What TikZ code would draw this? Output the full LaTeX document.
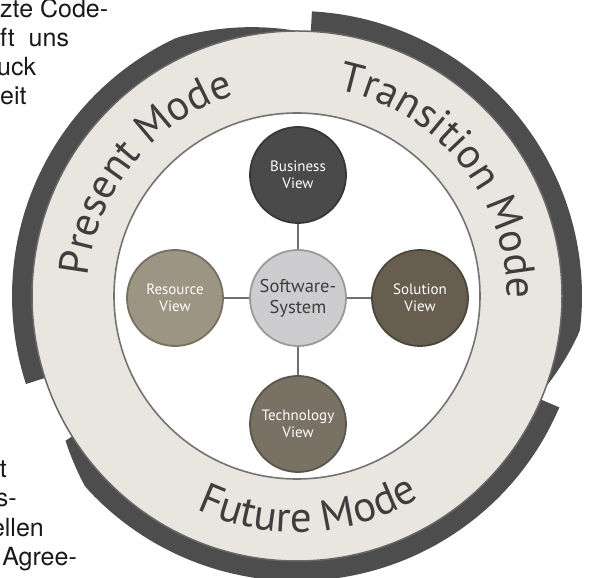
\documentclass[tikz,border=0pt]{standalone}
\usepackage{fontspec}
\setmainfont{TeX Gyre Heros}
\newfontfamily\viewfont{PT Sans}
\usetikzlibrary{decorations.text}

\definecolor{ringbeige}{HTML}{E9E6DF}
\definecolor{banddark}{HTML}{4D4D4D}
\definecolor{ringtext}{HTML}{3E3E3E}
\definecolor{businessgray}{HTML}{4A4A4A}
\definecolor{solutionbrown}{HTML}{675E50}
\definecolor{resourcetaupe}{HTML}{9D9584}
\definecolor{technologytaupe}{HTML}{797264}
\definecolor{softwaregray}{HTML}{CDCDCF}
\definecolor{linkgray}{HTML}{6E6E6E}

\newcommand{\modefont}{\viewfont\fontsize{42}{50}\selectfont}
\newcommand{\futurefont}{\viewfont\fontsize{43}{51}\selectfont}

\begin{document}
\begin{tikzpicture}[x=1pt, y=1pt,
        view/.style={circle, minimum size=96pt, inner sep=0pt, align=center, text=white, font=\viewfont\fontsize{15}{17}\selectfont, fill=#1, draw=#1!75!black, line width=1.8pt},
        core/.style={circle, minimum size=96pt, inner sep=0pt, align=center, text=ringtext, font=\viewfont\fontsize{18.5}{21}\selectfont, fill=softwaregray, draw=softwaregray!75!black, line width=1.8pt},
        link/.style={draw=linkgray, line width=2.6pt},
        pagetext/.style={font=\fontsize{25}{29}\selectfont, inner sep=0pt, text=black!90},
        band/.style={fill=banddark},
        modetext/.style={decorate, decoration={text along path, text align=center, text color=ringtext, text={|\modefont|#1}}},
        futuretext/.style={decorate, decoration={text along path, text align=center, text color=ringtext, text={|\futurefont|#1}}}
    ]
    \useasboundingbox (0,0) rectangle (589,578);
    \clip (0,0) rectangle (589,578);

    % Page text cut by the picture (left)
    \node[pagetext, anchor=base west] (top1) at (0,560) {zte Code-};
    \node[pagetext, anchor=base west] (top2) at (0,531) {ft\hspace{14pt}uns};
    \node[pagetext, anchor=base west] (top3) at (-3,502) {uck};
    \node[pagetext, anchor=base west] (top4) at (0,473) {eit};

    \node[pagetext, anchor=base east] (bottom1) at (7,100) {t};
    \node[pagetext, anchor=base east] (bottom2) at (17,71) {s-};
    \node[pagetext, anchor=base east] (bottom3) at (44,41) {ellen};
    \node[pagetext, anchor=base east] (bottom4) at (77,12) {Agree-};

    % Mode ring
    \begin{scope}[shift={(297,282)}]
        \fill[band] plot[domain=198:90, samples=90] (\x:{265+20*min(1,(\x-90)/25)}) -- (90:255) arc[start angle=90, end angle=198, radius=255] -- cycle;
        \fill[band] plot[domain=87:-20, samples=90] (\x:{265+20*min(1,(\x+20)/13)}) -- (-20:255) arc[start angle=-20, end angle=87, radius=255] -- cycle;
        \fill[band] plot[domain=-23:-148, samples=90] (\x:{273+12*min(1,(\x+148)/10)}) -- (-148:255) arc[start angle=-148, end angle=-23, radius=255] -- cycle;

        \fill[ringbeige, draw=banddark!85, line width=1.5pt] (0,0) circle (265);
        \fill[white, draw=black!55, line width=1.6pt] (0,0) circle (183);

        \path[modetext={Present Mode}] (201:210) arc[start angle=201, end angle=81, radius=210];
        \path[modetext={Transition Mode}] (99:210) arc[start angle=99, end angle=-21, radius=210];
        \path[futuretext={Future Mode}] (203:236) arc[start angle=203, end angle=343, radius=236];
    \end{scope}

    % Views round the system
    \node[core] (software) at (298,280) {Software-\\System};
    \node[view=businessgray] (business) at (298,403) {Business\\View};
    \node[view=solutionbrown] (solution) at (420,280) {Solution\\View};
    \node[view=technologytaupe] (technology) at (298,154) {Technology\\View};
    \node[view=resourcetaupe] (resource) at (175,280) {Resource\\View};

    \draw[link] (software) -- (business);
    \draw[link] (software) -- (solution);
    \draw[link] (software) -- (technology);
    \draw[link] (software) -- (resource);

\end{tikzpicture}
\end{document}
